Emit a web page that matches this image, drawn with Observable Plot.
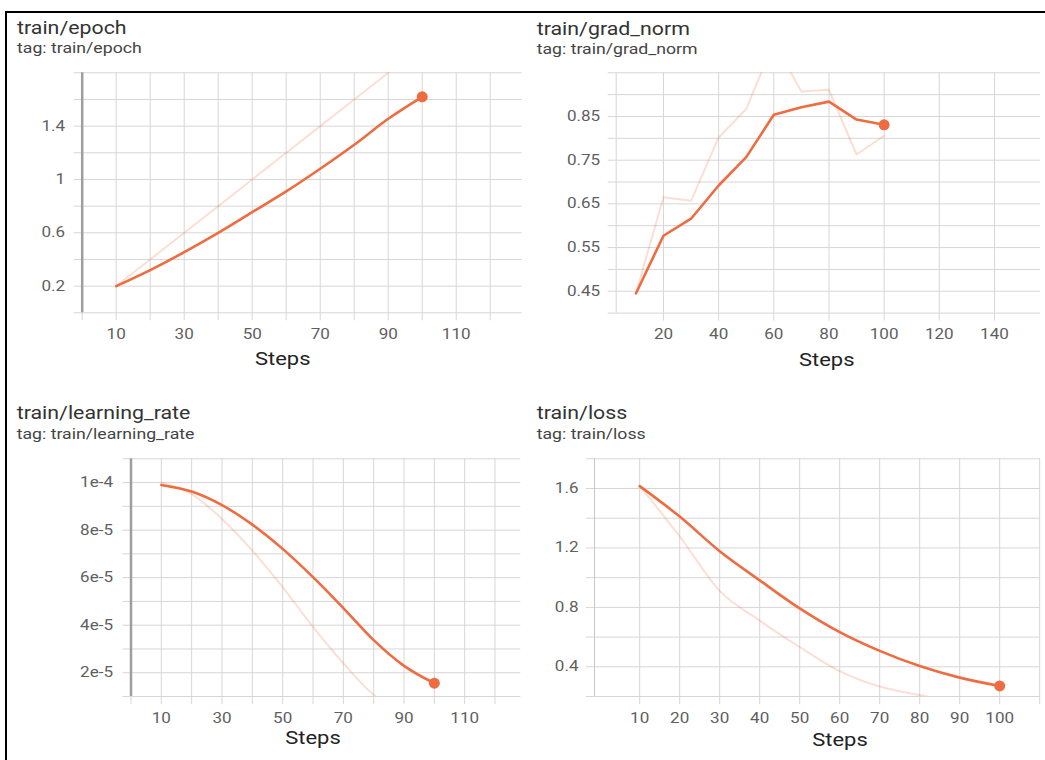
<!DOCTYPE html>
<html><head><meta charset="utf-8">
<script src="https://cdn.jsdelivr.net/npm/d3@7"></script>
<script src="https://cdn.jsdelivr.net/npm/@observablehq/plot@0.6"></script>
<style>
body{margin:0;background:#fff;}
#root{position:relative;width:1045px;height:760px;overflow:hidden;background:#fff;}
#root svg{position:absolute;left:0;top:0;}
.bl{position:absolute;background:#000;}
</style></head><body><div id="root"></div>
<script>
// ---- data ----
const steps = [10, 20, 30, 40, 50, 60, 70, 80, 90, 100];

const epochRaw    = [0.2, 0.4, 0.6, 0.8, 1.0, 1.2, 1.4, 1.6, 1.8, 2.0];
const epochSmooth = [0.2, 0.32, 0.455, 0.6, 0.755, 0.91, 1.08, 1.26, 1.455, 1.62];

const gradRaw    = [0.445, 0.665, 0.657, 0.802, 0.867, 1.02, 0.907, 0.911, 0.763, 0.806];
const gradSmooth = [0.445, 0.577, 0.616, 0.692, 0.757, 0.854, 0.871, 0.884, 0.843, 0.831];

const lrRaw    = [1.0e-4, 0.951e-4, 0.847e-4, 0.714e-4, 0.56e-4, 0.393e-4, 0.24e-4, 0.107e-4, 0.04e-4, 0.01e-4];
const lrSmooth = [0.99e-4, 0.962e-4, 0.905e-4, 0.823e-4, 0.721e-4, 0.602e-4, 0.472e-4, 0.337e-4, 0.229e-4, 0.156e-4];

const lossRaw    = [1.616, 1.278, 0.911, 0.711, 0.533, 0.371, 0.267, 0.21, 0.16, 0.13];
const lossSmooth = [1.616, 1.411, 1.178, 0.982, 0.793, 0.633, 0.507, 0.405, 0.327, 0.271];

// tick values
const epochXTicks  = [0, 10, 20, 30, 40, 50, 60, 70, 80, 90, 100, 110, 120];
const epochXLabels = [10, 30, 50, 70, 90, 110];
const epochYTicks  = [0, 0.2, 0.4, 0.6, 0.8, 1.0, 1.2, 1.4, 1.6, 1.8];
const epochYLabels = [0.2, 0.6, 1, 1.4];

const gradXTicks  = [20, 40, 60, 80, 100, 120, 140];
const gradXLabels = [20, 40, 60, 80, 100, 120, 140];
const gradYTicks  = [0.40, 0.45, 0.50, 0.55, 0.60, 0.65, 0.70, 0.75, 0.80, 0.85, 0.90, 0.95];
const gradYLabels = [0.45, 0.55, 0.65, 0.75, 0.85];

const lrXTicks  = [0, 10, 20, 30, 40, 50, 60, 70, 80, 90, 100, 110, 120];
const lrXLabels = [10, 30, 50, 70, 90, 110];
const lrYTicks  = [1e-5, 2e-5, 3e-5, 4e-5, 5e-5, 6e-5, 7e-5, 8e-5, 9e-5, 1e-4, 1.1e-4];
const lrYLabels = [2e-5, 4e-5, 6e-5, 8e-5, 1e-4];

const lossXTicks  = [10, 20, 30, 40, 50, 60, 70, 80, 90, 100, 110];
const lossXLabels = [10, 20, 30, 40, 50, 60, 70, 80, 90, 100];
const lossYTicks  = [0.2, 0.4, 0.6, 0.8, 1.0, 1.2, 1.4, 1.6, 1.8];
const lossYLabels = [0.4, 0.8, 1.2, 1.6];

// ---- layout / style ----
const W = 1045, H = 760;
const COLOR = "#ef6c41";
const GRID = "#d6d6d6";
const TX = 1.22; // horizontal stretch of text in the reference

const panels = [
  {title: "train/epoch", tag: "tag: train/epoch", tx: 17, ty: 34, sy: 53, sx: 282.7, sby: 365,
   left: 81.7, right: 521.7, top: 72.3, bottom: 312.3, xDomain: [0, 129.4], yDomain: [0, 1.8],
   raw: epochRaw, smooth: epochSmooth, xT: epochXTicks, xL: epochXLabels, yT: epochYTicks, yL: epochYLabels,
   fmt: d => d3.format("~g")(d), curve: "monotone-x", axisStroke: "#9e9e9e", axisW: 2.5, xPad: 8, yPad: 9},
  {title: "train/grad_norm", tag: "tag: train/grad_norm", tx: 536.7, ty: 35, sy: 54, sx: 826.7, sby: 366,
   left: 615.7, right: 1040, top: 72.3, bottom: 312.6, xDomain: [2.86, 156.7], yDomain: [0.40, 0.95],
   raw: gradRaw, smooth: gradSmooth, xT: gradXTicks, xL: gradXLabels, yT: gradYTicks, yL: gradYLabels,
   fmt: d => d3.format(".2f")(d), curve: "linear", axisStroke: GRID, axisW: 1, xPad: 8, yPad: 8},
  {title: "train/learning_rate", tag: "tag: train/learning_rate", tx: 16.7, ty: 419, sy: 439, sx: 313, sby: 744,
   left: 130.5, right: 520.3, top: 458.3, bottom: 696, xDomain: [0, 128.5], yDomain: [1e-5, 1.1e-4],
   raw: lrRaw, smooth: lrSmooth, xT: lrXTicks, xL: lrXLabels, yT: lrYTicks, yL: lrYLabels,
   fmt: d => d.toExponential().replace("+", ""), curve: "monotone-x", axisStroke: "#9e9e9e", axisW: 2.5, xPad: 9, yPad: 10},
  {title: "train/loss", tag: "tag: train/loss", tx: 536.7, ty: 419, sy: 439, sx: 840, sby: 745.5,
   left: 594, right: 1040, top: 458.3, bottom: 696, xDomain: [-1.3, 110.2], yDomain: [0.2, 1.8],
   raw: lossRaw, smooth: lossSmooth, xT: lossXTicks, xL: lossXLabels, yT: lossYTicks, yL: lossYLabels,
   fmt: d => d3.format("~g")(d), curve: "monotone-x", axisStroke: "#c8c8c8", axisW: 1, xPad: 9, yPad: 8}
];

const root = document.getElementById("root");

function stretchText(svg) {
  svg.querySelectorAll("text").forEach(t => {
    const tr = t.getAttribute("transform") || "";
    t.setAttribute("transform", tr + ` scale(${TX},1)`);
  });
}

const near = (arr, d) => arr.some(m => Math.abs(m - d) < Math.abs(m) * 1e-6 + 1e-12);

for (const p of panels) {
  const raw = steps.map((s, i) => ({step: s, value: p.raw[i]}));
  const sm = steps.map((s, i) => ({step: s, value: p.smooth[i]}));
  const inX = v => v >= p.xDomain[0] - 1e-9 && v <= p.xDomain[1] + 1e-9;
  const inY = v => v >= p.yDomain[0] - 1e-12 && v <= p.yDomain[1] + 1e-12;
  const xT = p.xT.filter(inX), yT = p.yT.filter(inY);
  const chart = Plot.plot({
    width: W, height: H,
    marginLeft: p.left, marginRight: W - p.right, marginTop: p.top, marginBottom: H - p.bottom,
    x: {domain: p.xDomain}, y: {domain: p.yDomain},
    style: {background: "transparent", fontFamily: "Roboto, sans-serif", overflow: "visible", maxWidth: "none"},
    marks: [
      Plot.gridX(xT, {stroke: GRID, strokeOpacity: 1}),
      Plot.gridY(yT, {stroke: GRID, strokeOpacity: 1}),
      Plot.axisX(xT, {tickSize: 8, tickPadding: p.xPad, stroke: GRID, fill: "#5f5f5f", fontSize: 14,
                      tickFormat: d => near(p.xL, d) ? String(d) : "", label: null}),
      Plot.axisY(yT, {tickSize: 8, tickPadding: p.yPad, stroke: GRID, fill: "#5f5f5f", fontSize: 14,
                      tickFormat: d => near(p.yL, d) ? p.fmt(d) : "", label: null}),
      Plot.ruleX([p.xDomain[0]], {stroke: p.axisStroke, strokeWidth: p.axisW}),
      Plot.line(raw, {x: "step", y: "value", stroke: COLOR, strokeOpacity: 0.22, strokeWidth: 2, curve: p.curve, clip: true}),
      Plot.line(sm, {x: "step", y: "value", stroke: COLOR, strokeWidth: 2.6, curve: p.curve, clip: true}),
      Plot.dot(sm.slice(-1), {x: "step", y: "value", r: 5.5, fill: COLOR, stroke: "none"})
    ]
  });
  stretchText(chart);
  root.appendChild(chart);
}

// titles, tags and axis names
const ov = d3.select(root).append("svg").attr("width", W).attr("height", H)
  .style("font-family", "Roboto, sans-serif");
for (const p of panels) {
  ov.append("text").attr("transform", `translate(${p.tx},${p.ty}) scale(${TX},1)`)
    .attr("font-size", 17.5).attr("fill", "#333").text(p.title);
  ov.append("text").attr("transform", `translate(${p.tx},${p.sy}) scale(${TX},1)`)
    .attr("font-size", 14.5).attr("fill", "#444").text(p.tag);
  ov.append("text").attr("transform", `translate(${p.sx},${p.sby}) scale(${TX},1)`)
    .attr("font-size", 18).attr("fill", "#222").attr("text-anchor", "middle").text("Steps");
}

// frame lines of the screenshot
const l1 = document.createElement("div"); l1.className = "bl";
Object.assign(l1.style, {left: "5px", top: "11px", width: "2px", height: "749px"});
const l2 = document.createElement("div"); l2.className = "bl";
Object.assign(l2.style, {left: "5px", top: "11px", width: "1040px", height: "2px"});
root.appendChild(l1); root.appendChild(l2);
</script>
</body></html>
